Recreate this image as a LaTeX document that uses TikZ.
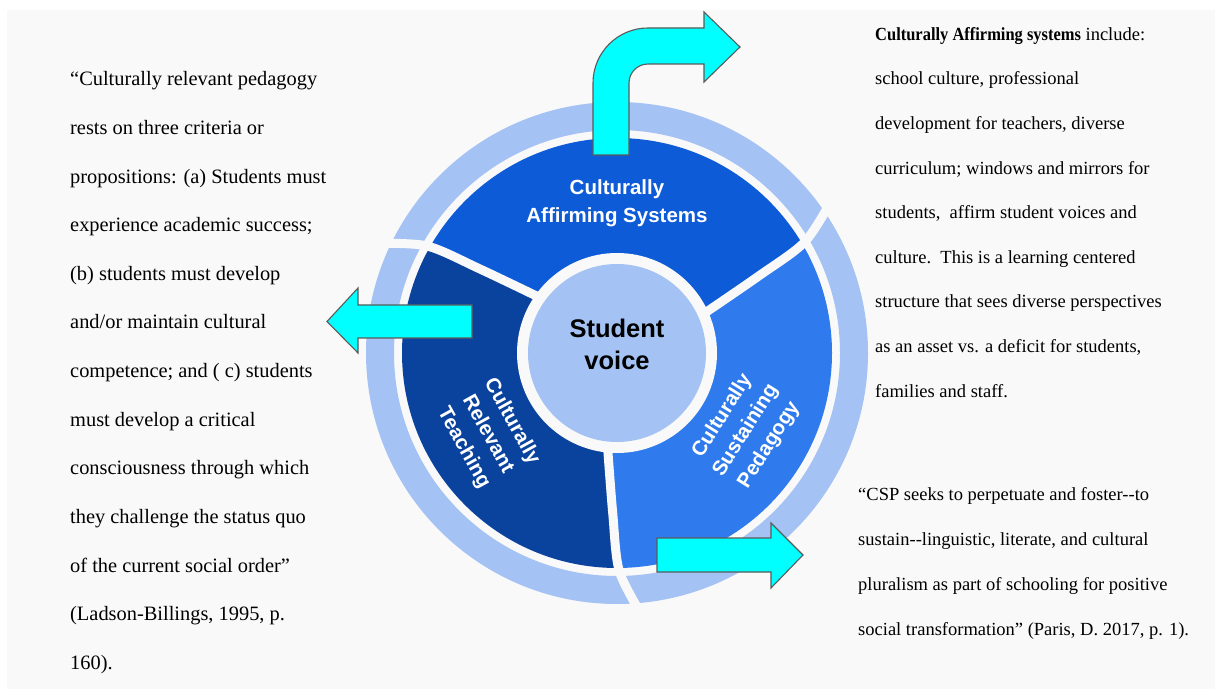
\documentclass[tikz,border=0pt]{standalone}
\usepackage{fontspec}
\setmainfont{Liberation Serif}
\newfontfamily\labelsans{Liberation Sans}
\definecolor{pagebg}{HTML}{F9F9F9}
\definecolor{ringblue}{HTML}{A4C2F4}
\definecolor{affirmblue}{HTML}{0E5BD8}
\definecolor{relevantblue}{HTML}{0A439E}
\definecolor{sustainblue}{HTML}{2F7AEC}
\definecolor{arrowcyan}{HTML}{00FFFF}
\definecolor{arrowedge}{HTML}{5B5B5B}
\begin{document}
\begin{tikzpicture}[x=1pt,y=1pt,
  segtext/.style={text=white, inner sep=0, align=center,
    font=\labelsans\bfseries\fontsize{20.5}{27.5}\selectfont},
  blockarrow/.style={fill=arrowcyan, draw=arrowedge, line width=1.1pt, line join=miter},
  divider/.style={draw=pagebg, line width=9pt},
  quoteL/.style={anchor=base west, inner sep=0, font=\fontsize{20.4}{24}\selectfont},
  quoteR/.style={anchor=base west, inner sep=0, font=\fontsize{18.5}{22}\selectfont}]

% page
\useasboundingbox (0,0) rectangle (1215,689);
\fill[white] (0,0) rectangle (1215,689);
\fill[pagebg] (7,0) rectangle (1215,679);

\begin{scope}[shift={(617,336)}]
  % curved dividers of the pinwheel
  \foreach \k/\a in {0/0,1/120,2/240} {
    \coordinate (d\k a) at ({144+\a}:92);
    \coordinate (d\k b) at ({148.5+\a}:161);
    \coordinate (d\k c) at ({150.6+\a}:218);
    \coordinate (d\k d) at ({155.5+\a}:264);
  }
  % outer light ring
  \fill[ringblue, even odd rule] (0,0) circle (251) (0,0) circle (223);
  % three segments
  \begin{scope}
    \clip (0,0) circle (215);
    \fill[affirmblue] (0,0) -- plot[smooth] coordinates {(d2a) (d2b) (d2c) (d2d)}
      arc[start angle=35.5, end angle=155.5, radius=264]
      -- plot[smooth] coordinates {(d0d) (d0c) (d0b) (d0a)} -- cycle;
    \fill[relevantblue] (0,0) -- plot[smooth] coordinates {(d0a) (d0b) (d0c) (d0d)}
      arc[start angle=155.5, end angle=275.5, radius=264]
      -- plot[smooth] coordinates {(d1d) (d1c) (d1b) (d1a)} -- cycle;
    \fill[sustainblue] (0,0) -- plot[smooth] coordinates {(d1a) (d1b) (d1c) (d1d)}
      arc[start angle=275.5, end angle=395.5, radius=264]
      -- plot[smooth] coordinates {(d2d) (d2c) (d2b) (d2a)} -- cycle;
  \end{scope}
  % hub
  \fill[pagebg] (0,0) circle (100);
  \fill[ringblue] (0,0) circle (89);
  \foreach \k in {0,1,2}
    \draw[divider] plot[smooth] coordinates {(d\k a) (d\k b) (d\k c) (d\k d)};
\end{scope}

% labels in the wheel
\node[inner sep=0, align=center, font=\labelsans\bfseries\fontsize{25.5}{32}\selectfont] (voice) at (617,345) {Student\\voice};
\node[segtext] (affirm) at (617,486) {Culturally\\Affirming Systems};
\node[segtext, rotate=-61] (relevant) at (487.6,254.3) {Culturally\\Relevant\\Teaching};
\node[segtext, rotate=58] (sustain) at (745.8,258.4) {Culturally\\Sustaining\\Pedagogy};

% block arrows
\draw[blockarrow] (593,534) -- (593,606) arc[start angle=180, end angle=90, radius=55]
  -- (704,661) -- (704,677) -- (740,642) -- (704,607) -- (704,625) -- (648,625)
  arc[start angle=90, end angle=180, radius=19] -- (629,534) -- cycle;
\draw[blockarrow] (472,384) -- (358,384) -- (358,401) -- (327,367.5) -- (358,336)
  -- (358,351) -- (472,351) -- cycle;
\draw[blockarrow] (657,151) -- (771,151) -- (771,166) -- (803,134) -- (771,101)
  -- (771,117) -- (657,117) -- cycle;

% quotation, left
\foreach \ln [count=\i] in {
  {“Culturally relevant pedagogy},
  {rests on three criteria or},
  {propositions: (a) Students must},
  {experience academic success;},
  {(b) students must develop},
  {and/or maintain cultural},
  {competence; and ( c) students},
  {must develop a critical},
  {consciousness through which},
  {they challenge the status quo},
  {of the current social order”},
  {(Ladson-Billings, 1995, p.},
  {160).}}
  \node[quoteL] (crp\i) at (70,{603-(\i-1)*48.6}) {\ln};

% description, upper right
\foreach \ln [count=\i] in {
  {\scalebox{0.89}[1]{\textbf{Culturally Affirming systems}} include:},
  {school culture, professional},
  {development for teachers, diverse},
  {curriculum; windows and mirrors for},
  {students,\ \ affirm student voices and},
  {culture.\ \ This is a learning centered},
  {structure that sees diverse perspectives},
  {as an asset vs. a deficit for students,},
  {families and staff.}}
  \node[quoteR] (cas\i) at (875,{648.6-(\i-1)*44.6}) {\ln};

% quotation, lower right
\foreach \ln [count=\i] in {
  {“CSP seeks to perpetuate and foster-{}-to},
  {sustain-{}-linguistic, literate, and cultural},
  {pluralism as part of schooling for positive},
  {social transformation” (Paris, D. 2017, p. 1).}}
  \node[quoteR] (csp\i) at (858,{189-(\i-1)*45}) {\ln};
\end{tikzpicture}
\end{document}
